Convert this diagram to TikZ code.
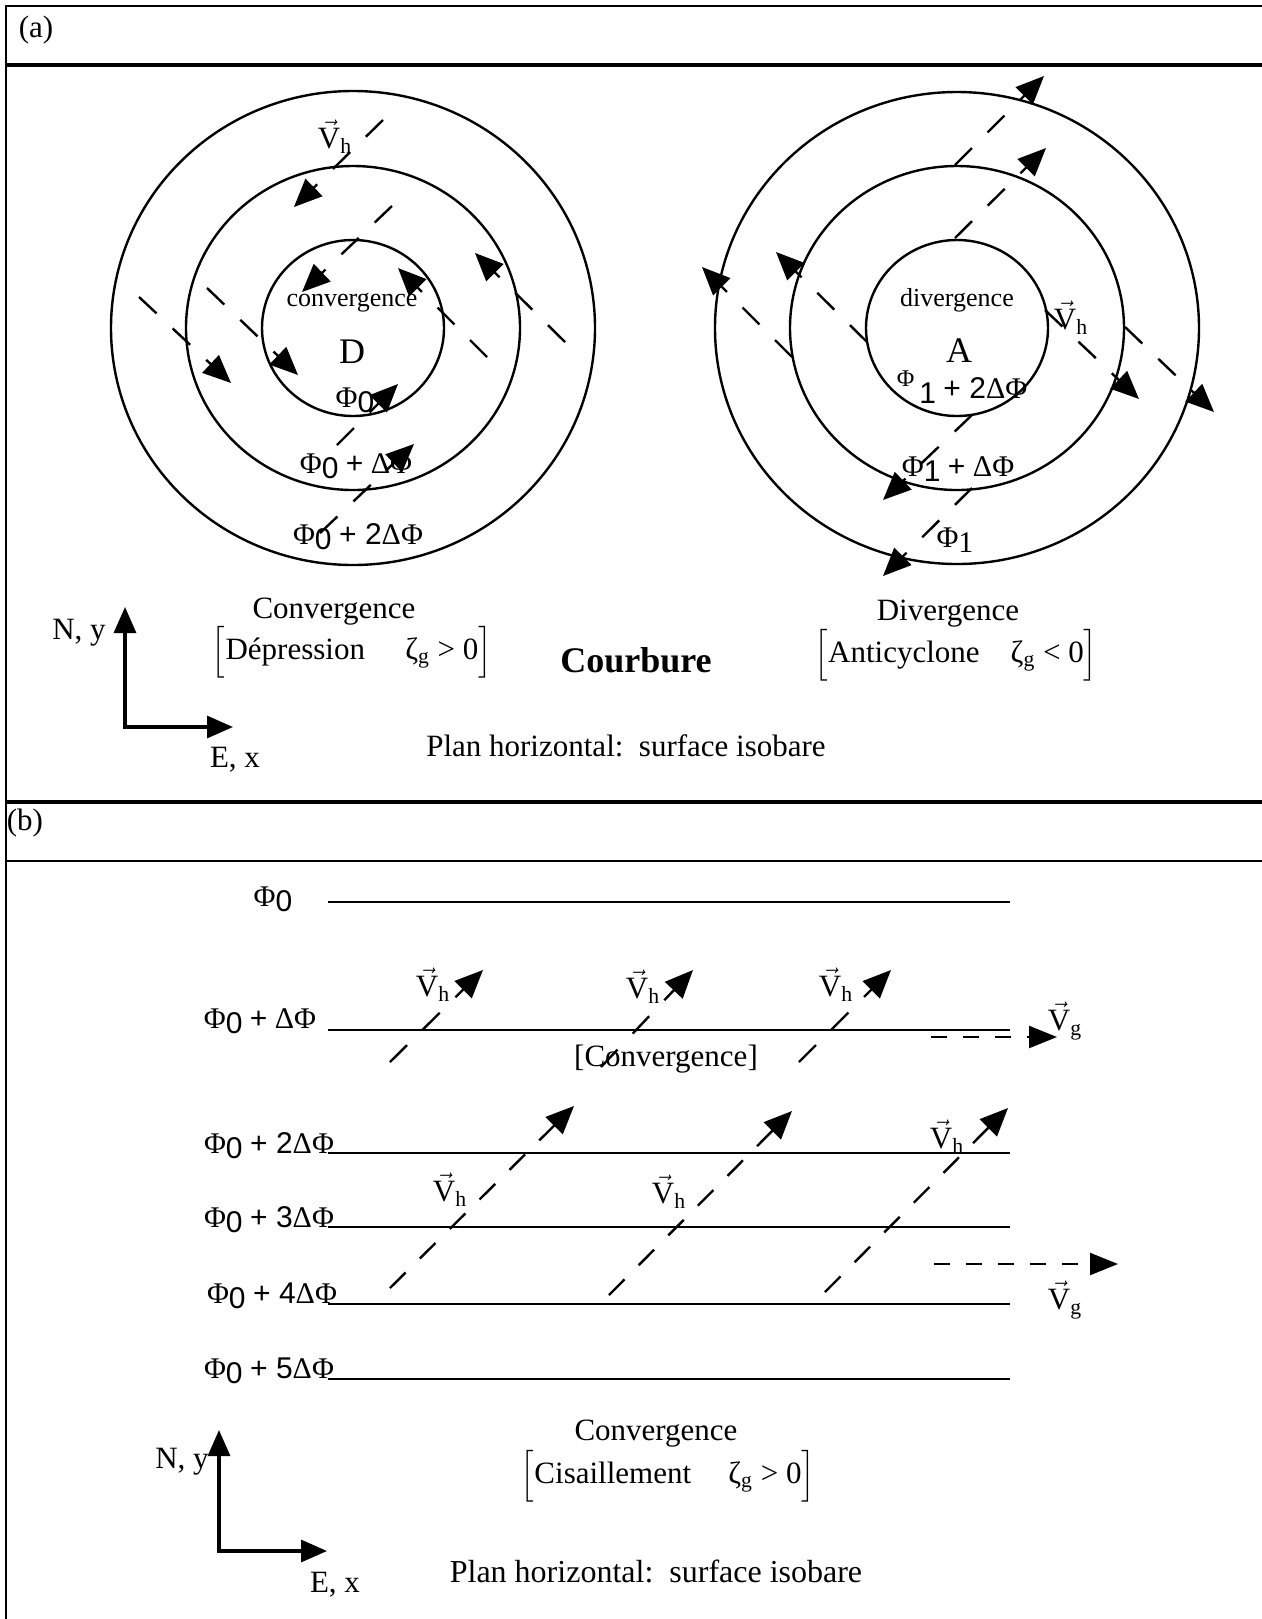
\documentclass[tikz,border=0pt]{standalone}
\usepackage{amsmath}
\usepackage{fontspec}
\setmainfont{Liberation Serif}
\newfontfamily\arialfont{Liberation Sans}
\usepackage{tikz}
\usetikzlibrary{arrows.meta}
\newcommand{\Vh}{$\vec{\text{V}}_{\text{h}}$}
\newcommand{\Vg}{$\vec{\text{V}}_{\text{g}}$}
\newcommand{\phisub}[1]{Φ\raisebox{-0.35ex}{\arialfont #1}}
\newcommand{\sumsf}[1]{{\arialfont #1}}
\tikzset{
  framerule/.style={draw=black,line width=1.1pt},
  thickrule/.style={draw=black,line width=2pt},
  isoline/.style={draw=black,line width=1.2pt},
  windflow/.style={-{Triangle[length=14pt,width=12pt]},draw=black,line width=1.2pt,dash pattern=on 12pt off 11pt},
  geoflow/.style={-{Triangle[length=14pt,width=11pt]},draw=black,line width=1.2pt,dash pattern=on 8pt off 8pt},
  axes/.style={{Triangle[length=13pt,width=11pt]}-{Triangle[length=13pt,width=11pt]},draw=black,line width=1.6pt},
  txt/.style={inner sep=0pt,font=\fontsize{15.5}{18}\selectfont},
  txtb/.style={inner sep=0pt,font=\fontsize{16}{19}\selectfont},
  smalltxt/.style={inner sep=0pt,font=\fontsize{13}{15}\selectfont},
  phitxt/.style={inner sep=0pt,font=\fontsize{15}{18}\selectfont},
  bigtxt/.style={inner sep=0pt,font=\fontsize{18}{21}\selectfont}
}
\begin{document}
\begin{tikzpicture}[x=0.5pt,y=-0.5pt]
  \useasboundingbox (0,0) rectangle (1262,1619);
  % frame
  \coordinate (tr) at (1262,6); \coordinate (tl) at (6,6); \coordinate (bl) at (6,1619);
  \draw[framerule] (tr) -- (tl) -- (bl);
  \coordinate (ra1) at (6,65); \coordinate (ra2) at (1262,65);
  \draw[thickrule] (ra1) -- (ra2);
  \coordinate (rb1) at (6,802); \coordinate (rb2) at (1262,802);
  \draw[thickrule] (rb1) -- (rb2);
  \coordinate (rc1) at (6,861); \coordinate (rc2) at (1262,861);
  \draw[framerule] (rc1) -- (rc2);
  \node[txt] (pa) at (36,30) {(a)};
  \node[txt] (pb) at (25,823) {(b)};

  % (a) depression
  \coordinate (lowc) at (353,328);
  \draw[isoline] (lowc) ellipse [x radius=242,y radius=237];
  \draw[isoline] (lowc) ellipse [x radius=167,y radius=162];
  \draw[isoline] (lowc) ellipse [x radius=91,y radius=88];
  \node[bigtxt] (low) at (352,352) {D};
  \node[smalltxt] (lowname) at (352,303) {convergence};
  \node[phitxt] (lowphi0) at (355,400) {\phisub{0}};
  \node[phitxt] (lowphi1) at (356,466) {\phisub{0} \sumsf{+} ΔΦ};
  \node[phitxt] (lowphi2) at (358,537) {\phisub{0} \sumsf{+ 2}ΔΦ};
  \node[txt] (lowvh) at (335,137) {\Vh};
  \coordinate (l1a) at (383,120); \coordinate (l1b) at (294,207);
  \coordinate (l2a) at (392,206); \coordinate (l2b) at (302,292);
  \coordinate (l3a) at (139,297); \coordinate (l3b) at (231,383);
  \coordinate (l4a) at (207,288); \coordinate (l4b) at (298,375);
  \coordinate (l5a) at (487,357); \coordinate (l5b) at (398,268);
  \coordinate (l6a) at (565,342); \coordinate (l6b) at (475,253);
  \coordinate (l7a) at (337,445); \coordinate (l7b) at (398,384);
  \coordinate (l8a) at (320,533); \coordinate (l8b) at (414,444);
  \draw[windflow] (l1a) -- (l1b);
  \draw[windflow] (l2a) -- (l2b);
  \draw[windflow] (l3a) -- (l3b);
  \draw[windflow] (l4a) -- (l4b);
  \draw[windflow] (l5a) -- (l5b);
  \draw[windflow] (l6a) -- (l6b);
  \draw[windflow] (l7a) -- (l7b);
  \draw[windflow] (l8a) -- (l8b);

  % (a) anticyclone
  \coordinate (highc) at (957,328);
  \draw[isoline] (highc) ellipse [x radius=242,y radius=236];
  \draw[isoline] (highc) ellipse [x radius=167,y radius=162];
  \draw[isoline] (highc) ellipse [x radius=91,y radius=88];
  \node[bigtxt] (high) at (959,351) {A};
  \node[smalltxt] (highname) at (957,300) {divergence};
  \node[phitxt] (highphi2) at (962,387) {\raisebox{0.4em}{\fontsize{12}{14}\selectfont Φ}\,\raisebox{-0.35ex}{\arialfont 1} \sumsf{+ 2}ΔΦ};
  \node[phitxt] (highphi1) at (958,469) {\phisub{1} \sumsf{+} ΔΦ};
  \node[phitxt] (highphi0) at (955,540) {Φ\raisebox{-0.35ex}{1}};
  \node[txt] (highvh) at (1071,318) {\Vh};
  \coordinate (h1a) at (955,165); \coordinate (h1b) at (1044,76);
  \coordinate (h2a) at (955,238); \coordinate (h2b) at (1046,148);
  \coordinate (h3a) at (867,342); \coordinate (h3b) at (776,252);
  \coordinate (h4a) at (792,357); \coordinate (h4b) at (702,267);
  \coordinate (h5a) at (1045,310); \coordinate (h5b) at (1139,399);
  \coordinate (h6a) at (1125,327); \coordinate (h6b) at (1214,412);
  \coordinate (h7a) at (972,415); \coordinate (h7b) at (883,500);
  \coordinate (h8a) at (972,488); \coordinate (h8b) at (883,576);
  \draw[windflow] (h1a) -- (h1b);
  \draw[windflow] (h2a) -- (h2b);
  \draw[windflow] (h3a) -- (h3b);
  \draw[windflow] (h4a) -- (h4b);
  \draw[windflow] (h5a) -- (h5b);
  \draw[windflow] (h6a) -- (h6b);
  \draw[windflow] (h7a) -- (h7b);
  \draw[windflow] (h8a) -- (h8b);

  \node[txt] (lowtitle) at (334,612) {Convergence};
  \node[txt] (lowkind) at (352,652) {$\Big[$Dépression\hspace{1.3em}ζ\textsubscript{g} > 0$\Big]$};
  \node[bigtxt] (curv) at (636,660) {\bfseries Courbure};
  \node[txt] (hightitle) at (948,614) {Divergence};
  \node[txt] (highkind) at (956,655) {$\Big[$Anticyclone\hspace{1em}ζ\textsubscript{g} < 0$\Big]$};
  \coordinate (oa) at (125,727); \coordinate (na) at (125,607); \coordinate (ea) at (233,727);
  \draw[axes] (na) -- (oa) -- (ea);
  \node[txt] (nya) at (79,633) {N, y};
  \node[txt] (exa) at (235,760) {E, x};
  \node[txt] (plana) at (626,746) {Plan horizontal:\ \ surface isobare};

  % (b) shear
  \coordinate (i0w) at (328,902); \coordinate (i0e) at (1010,902);
  \coordinate (i1w) at (328,1030); \coordinate (i1e) at (1010,1030);
  \coordinate (i2w) at (328,1153); \coordinate (i2e) at (1010,1153);
  \coordinate (i3w) at (328,1227); \coordinate (i3e) at (1010,1227);
  \coordinate (i4w) at (328,1304); \coordinate (i4e) at (1010,1304);
  \coordinate (i5w) at (328,1379); \coordinate (i5e) at (1010,1379);
  \draw[isoline] (i0w) -- (i0e);
  \draw[isoline] (i1w) -- (i1e);
  \draw[isoline] (i2w) -- (i2e);
  \draw[isoline] (i3w) -- (i3e);
  \draw[isoline] (i4w) -- (i4e);
  \draw[isoline] (i5w) -- (i5e);
  \node[phitxt] (phi0) at (273,899) {\phisub{0}};
  \node[phitxt] (phi1) at (260,1021) {\phisub{0} \sumsf{+} ΔΦ};
  \node[phitxt] (phi2) at (269,1146) {\phisub{0} \sumsf{+ 2}ΔΦ};
  \node[phitxt] (phi3) at (269,1220) {\phisub{0} \sumsf{+ 3}ΔΦ};
  \node[phitxt] (phi4) at (272,1296) {\phisub{0} \sumsf{+ 4}ΔΦ};
  \node[phitxt] (phi5) at (269,1371) {\phisub{0} \sumsf{+ 5}ΔΦ};
  \node[txt] (conv) at (666,1059) {[Convergence]};
  \coordinate (s1a) at (390,1062); \coordinate (s1b) at (483,970);
  \coordinate (s2a) at (601,1067); \coordinate (s2b) at (693,970);
  \coordinate (s3a) at (799,1062); \coordinate (s3b) at (891,970);
  \coordinate (t1a) at (390,1288); \coordinate (t1b) at (574,1106);
  \coordinate (t2a) at (609,1295); \coordinate (t2b) at (792,1111);
  \coordinate (t3a) at (825,1292); \coordinate (t3b) at (1008,1108);
  \draw[windflow] (s1a) -- (s1b);
  \draw[windflow] (s2a) -- (s2b);
  \draw[windflow] (s3a) -- (s3b);
  \draw[windflow,dash pattern=on 11pt off 10pt] (t1a) -- (t1b);
  \draw[windflow,dash pattern=on 11pt off 10pt] (t2a) -- (t2b);
  \draw[windflow,dash pattern=on 11pt off 10pt] (t3a) -- (t3b);
  \node[txt] (svh1) at (433,985) {\Vh};
  \node[txt] (svh2) at (643,987) {\Vh};
  \node[txt] (svh3) at (836,985) {\Vh};
  \node[txt] (tvh1) at (450,1190) {\Vh};
  \node[txt] (tvh2) at (669,1192) {\Vh};
  \node[txt] (tvh3) at (947,1137) {\Vh};
  \coordinate (g1a) at (931,1037); \coordinate (g1b) at (1057,1037);
  \coordinate (g2a) at (934,1264); \coordinate (g2b) at (1118,1264);
  \draw[geoflow] (g1a) -- (g1b);
  \draw[geoflow] (g2a) -- (g2b);
  \node[txt] (vg1) at (1065,1021) {\Vg};
  \node[txt] (vg2) at (1065,1300) {\Vg};

  \node[txt] (shtitle) at (656,1434) {Convergence};
  \node[txt] (shkind) at (668,1476) {$\Big[$Cisaillement\hspace{1.2em}ζ\textsubscript{g} > 0$\Big]$};
  \coordinate (ob) at (219,1551); \coordinate (nb) at (219,1430); \coordinate (eb) at (327,1551);
  \draw[axes] (nb) -- (ob) -- (eb);
  \node[txt] (nyb) at (182,1462) {N, y};
  \node[txt] (exb) at (335,1585) {E, x};
  \node[txtb] (planb) at (656,1571) {Plan horizontal:\ \ surface isobare};
\end{tikzpicture}
\end{document}
